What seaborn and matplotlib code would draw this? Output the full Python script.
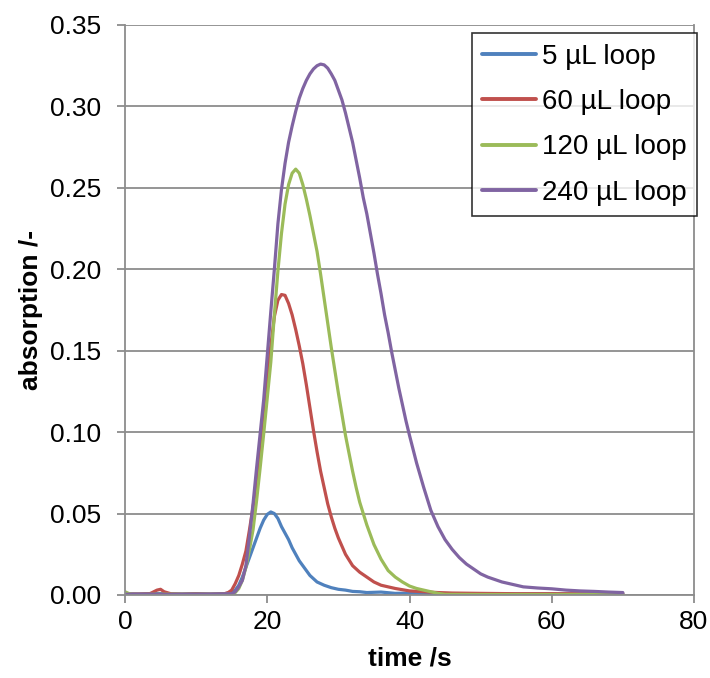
import numpy as np
import pandas as pd
import seaborn as sns
import matplotlib
matplotlib.use("Agg")
import matplotlib.pyplot as plt

# Flow-injection absorption signals for four sample loop volumes
labels = ["5 µL loop", "60 µL loop", "120 µL loop", "240 µL loop"]
colors = ["#4F81BD", "#C0504D", "#9BBB59", "#8064A2"]

t_5 = [0, 2, 4, 6, 8, 10, 12, 14, 15, 15.5, 16, 16.5, 17, 17.5, 18, 18.5, 19, 19.5,
       20, 20.5, 21, 21.5, 22, 22.5, 23, 23.5, 24, 24.5, 25, 25.5, 26, 27, 28, 29,
       30, 31, 32, 33, 34, 36, 38, 40, 42, 44, 46, 50, 55, 60, 65, 70]
a_5 = [0.0008, 0.0005, 0.0010, 0.0007, 0.0006, 0.0008, 0.0005, 0.0008, 0.0015, 0.003,
       0.006, 0.011, 0.017, 0.023, 0.029, 0.035, 0.041, 0.046, 0.0495, 0.051, 0.050,
       0.047, 0.042, 0.038, 0.034, 0.029, 0.025, 0.021, 0.018, 0.015, 0.012, 0.008,
       0.006, 0.0045, 0.0035, 0.003, 0.0022, 0.002, 0.0015, 0.0018, 0.001, 0.0012,
       0.0008, 0.001, 0.0006, 0.0008, 0.0006, 0.0007, 0.0006, 0.0008]

t_60 = [0, 2, 3.5, 4.5, 5, 5.5, 6.5, 8, 10, 12, 14, 14.5, 15, 15.5, 16, 16.5, 17, 17.5,
        18, 18.5, 19, 19.5, 20, 20.5, 21, 21.5, 22, 22.5, 23, 23.5, 24, 24.5, 25, 25.5,
        26, 26.5, 27, 27.5, 28, 28.5, 29, 29.5, 30, 31, 32, 33, 34, 35, 36, 37, 38, 40,
        42, 44, 46, 50, 55, 60, 65, 70]
a_60 = [0.0005, 0.0006, 0.0008, 0.003, 0.0035, 0.002, 0.0007, 0.0005, 0.0007, 0.0005,
        0.0008, 0.0015, 0.003, 0.007, 0.012, 0.019, 0.027, 0.040, 0.054, 0.069, 0.089,
        0.109, 0.132, 0.153, 0.171, 0.181, 0.1845, 0.184, 0.179, 0.172, 0.163, 0.153,
        0.142, 0.129, 0.115, 0.101, 0.088, 0.076, 0.066, 0.056, 0.048, 0.041, 0.035,
        0.025, 0.018, 0.014, 0.011, 0.008, 0.006, 0.005, 0.004, 0.0025, 0.002, 0.0015,
        0.0012, 0.001, 0.0008, 0.0008, 0.0007, 0.0008]

t_120 = [0, 0.5, 1, 3, 6, 9, 12, 15, 15.5, 16, 16.5, 17, 17.5, 18, 18.5, 19, 19.5, 20,
         20.5, 21, 21.5, 22, 22.5, 23, 23.5, 24, 24.5, 25, 25.5, 26, 26.5, 27, 27.5, 28,
         28.5, 29, 29.5, 30, 30.5, 31, 31.5, 32, 32.5, 33, 33.5, 34, 35, 36, 37, 38, 39,
         40, 41, 42, 43, 44, 45, 50, 60, 70]
a_120 = [0.002, 0.001, 0.0004, 0.0004, 0.0005, 0.0004, 0.0005, 0.0005, 0.0015, 0.004,
         0.009, 0.017, 0.028, 0.040, 0.058, 0.078, 0.099, 0.121, 0.143, 0.172, 0.199,
         0.222, 0.240, 0.252, 0.259, 0.2615, 0.259, 0.252, 0.243, 0.233, 0.222, 0.211,
         0.197, 0.182, 0.167, 0.152, 0.138, 0.124, 0.111, 0.098, 0.087, 0.076, 0.066,
         0.057, 0.050, 0.043, 0.031, 0.022, 0.015, 0.011, 0.008, 0.0055, 0.004, 0.003,
         0.002, 0.001, 0.0004, 0.0003, 0.0003, 0.0003]

t_240 = [0, 3, 6, 9, 12, 15, 15.5, 16, 16.5, 17, 17.5, 18, 18.5, 19, 19.5, 20, 20.5, 21,
         21.5, 22, 22.5, 23, 23.5, 24, 24.5, 25, 25.5, 26, 26.5, 27, 27.5, 28, 28.5, 29,
         29.5, 30, 30.5, 31, 31.5, 32, 32.5, 33, 33.5, 34, 34.5, 35, 35.5, 36, 36.5, 37,
         37.5, 38, 38.5, 39, 39.5, 40, 41, 42, 43, 44, 45, 46, 47, 48, 49, 50, 51, 52,
         53, 54, 55, 56, 58, 60, 62, 64, 66, 68, 70]
a_240 = [0.0005, 0.0006, 0.0004, 0.0005, 0.0006, 0.0008, 0.002, 0.005, 0.009, 0.018,
         0.036, 0.056, 0.078, 0.099, 0.120, 0.147, 0.174, 0.200, 0.228, 0.249, 0.265,
         0.278, 0.288, 0.297, 0.305, 0.311, 0.316, 0.320, 0.323, 0.325, 0.326, 0.3255,
         0.3235, 0.320, 0.316, 0.310, 0.304, 0.296, 0.287, 0.278, 0.267, 0.256, 0.244,
         0.234, 0.222, 0.210, 0.197, 0.185, 0.172, 0.161, 0.149, 0.138, 0.127, 0.117,
         0.107, 0.098, 0.081, 0.066, 0.052, 0.042, 0.034, 0.028, 0.023, 0.019, 0.016,
         0.013, 0.011, 0.0095, 0.008, 0.007, 0.006, 0.005, 0.0043, 0.0038, 0.003,
         0.0025, 0.0022, 0.0018, 0.0015]

x_ticks = [0, 20, 40, 60, 80]
y_ticks = [0.00, 0.05, 0.10, 0.15, 0.20, 0.25, 0.30, 0.35]

frames = []
for lab, t, a in zip(labels, [t_5, t_60, t_120, t_240], [a_5, a_60, a_120, a_240]):
    frames.append(pd.DataFrame({"time": t, "absorption": a, "loop": lab}))
df = pd.concat(frames, ignore_index=True)

sns.set_theme(style="white")
plt.rcParams["font.family"] = ["Liberation Sans", "DejaVu Sans"]
plt.rcParams["text.color"] = "black"
plt.rcParams["axes.labelcolor"] = "black"

fig = plt.figure(figsize=(7.10, 6.78), dpi=100)
ax = fig.add_axes([125 / 710, 83 / 678, 569 / 710, 570 / 678])

sns.lineplot(data=df, x="time", y="absorption", hue="loop", hue_order=labels,
             palette=colors, estimator=None, sort=False, linewidth=2.3, ax=ax)

grid_c = "#8c8c8c"
ax.set_xlim(0, 80)
ax.set_ylim(0, 0.35)
ax.set_xticks(x_ticks)
ax.set_yticks(y_ticks)
ax.set_xticklabels([str(v) for v in x_ticks])
ax.set_yticklabels([f"{v:.2f}" for v in y_ticks])
ax.yaxis.grid(True, color=grid_c, linewidth=1.3)
ax.xaxis.grid(False)
ax.set_axisbelow(True)
for side in ["left", "bottom", "right"]:
    ax.spines[side].set_color(grid_c)
    ax.spines[side].set_linewidth(1.3)
ax.spines["top"].set_visible(False)
ax.tick_params(axis="both", which="major", direction="out", length=6, width=1.3,
               color=grid_c, labelsize=19, labelcolor="black")
ax.tick_params(axis="x", bottom=True, pad=5)
ax.tick_params(axis="y", left=True, pad=11)

ax.set_xlabel("time /s", fontsize=19, fontweight="bold", labelpad=9)
ax.set_ylabel("absorption /-", fontsize=19, fontweight="bold", labelpad=5)

handles, _ = ax.get_legend_handles_labels()
leg = ax.legend(handles=handles, labels=labels, loc="upper right",
                bbox_to_anchor=(697 / 710, 1 - 33 / 678), bbox_transform=fig.transFigure,
                borderaxespad=0, fontsize=20, frameon=True, fancybox=False,
                handlelength=1.95, handletextpad=0.2, labelspacing=0.7,
                borderpad=0.38, edgecolor="black")
leg.get_frame().set_linewidth(1.2)
for line in leg.get_lines():
    line.set_linewidth(2.8)
for txt in leg.get_texts():
    txt.set_color("black")

fig.savefig("out.png", dpi=100)
